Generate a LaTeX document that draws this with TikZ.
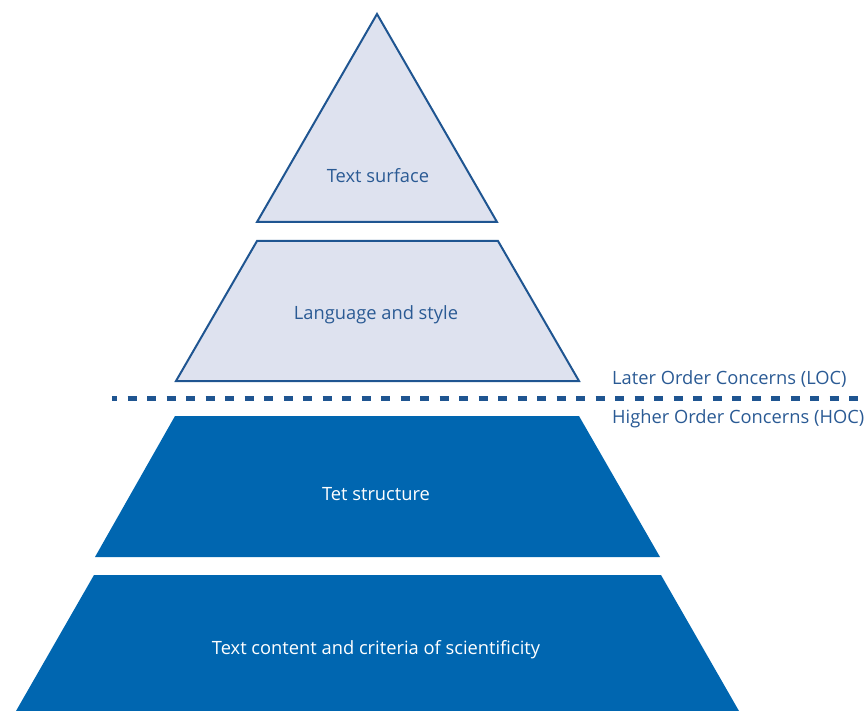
\documentclass[tikz,border=0pt]{standalone}
\usepackage{fontspec}
\setmainfont{Open Sans}
\definecolor{lightfill}{HTML}{DEE2EF}
\definecolor{lightedge}{HTML}{1F5591}
\definecolor{darkfill}{HTML}{0066B0}
\definecolor{labeltext}{HTML}{2A5A94}
\begin{document}
\begin{tikzpicture}[x=1pt,y=-1pt,
  lightlevel/.style={fill=lightfill,draw=lightedge,line width=2pt,line join=miter},
  darklevel/.style={fill=darkfill,draw=none},
  lighttext/.style={text=labeltext,font=\fontsize{18.3}{22}\selectfont,anchor=center},
  darktext/.style={text=white,font=\fontsize{18.3}{22}\selectfont,anchor=center},
  sidelabel/.style={text=labeltext,font=\fontsize{18.3}{22}\selectfont,anchor=west,inner sep=0pt},
  divider/.style={draw=lightedge,line width=5pt,dash pattern=on 9pt off 10.5pt,dash phase=4pt}]
\useasboundingbox (0,0) rectangle (865,711);
% levels
\draw[lightlevel] (377,14) -- (497,222) -- (257,222) -- cycle;
\draw[lightlevel] (257,241) -- (498,241) -- (579,381) -- (176,381) -- cycle;
\fill[darkfill] (175,416) -- (579,416) -- (660,557) -- (95,557) -- cycle;
\fill[darkfill] (94,575) -- (661,575) -- (739,711) -- (16,711) -- cycle;
% texts
\node[lighttext] (surface) at (378,176) {Text surface};
\node[lighttext] (language) at (376,315) {Language and style};
\node[darktext] (structure) at (376,494) {Tet structure};
\node[darktext] (content) at (376,650) {Text content and criteria of scientificity};
% divider
\coordinate (dl) at (112,398);
\coordinate (dr) at (862,398);
\draw[divider] (dl) -- (dr);
\node[sidelabel] (loc) at (612,379) {Later Order Concerns (LOC)};
\node[sidelabel] (hoc) at (612,419) {Higher Order Concerns (HOC)};
\end{tikzpicture}
\end{document}
